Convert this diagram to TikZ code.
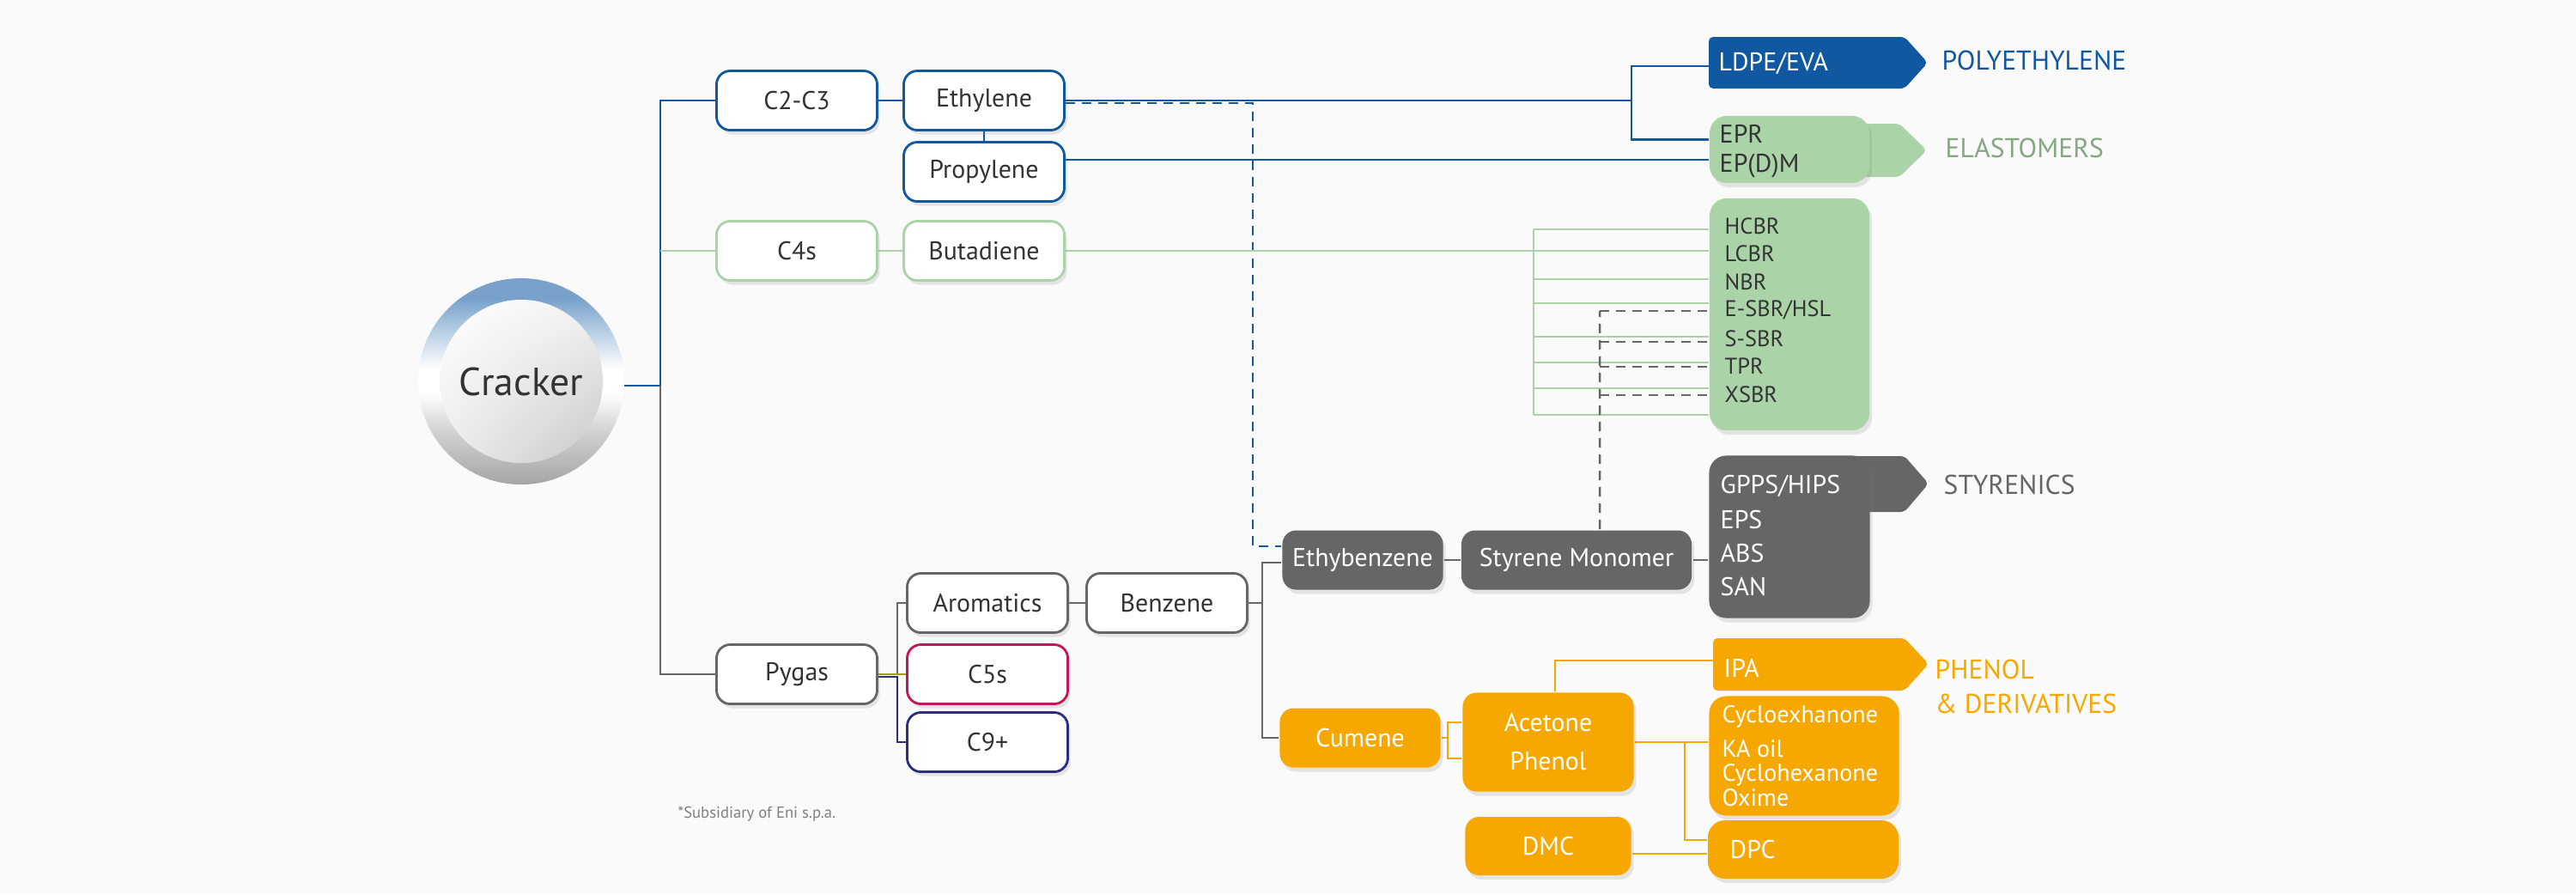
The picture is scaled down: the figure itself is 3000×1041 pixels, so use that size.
\documentclass[tikz,border=0pt]{standalone}
\usepackage{fontspec}
\setmainfont{PT Sans}
\usetikzlibrary{backgrounds}
\usetikzlibrary{shadings,shadows}
\definecolor{bgC}{HTML}{FAFAFA}
\definecolor{blueC}{HTML}{1058A0}
\definecolor{greenC}{HTML}{AAD4A8}
\definecolor{greenT}{HTML}{84A880}
\definecolor{greyC}{HTML}{666666}
\definecolor{orangeC}{HTML}{F7A800}
\definecolor{redC}{HTML}{C2185B}
\definecolor{navyC}{HTML}{2B2F7D}
\definecolor{oliveC}{HTML}{9C9C1E}
\definecolor{inkC}{HTML}{333333}
\definecolor{ringB}{HTML}{78A2CB}
\definecolor{ringL}{HTML}{B9CFE4}
\definecolor{ringG}{HTML}{A5A5A5}
\definecolor{ringM}{HTML}{D2D2D2}
\pgfdeclareverticalshading{ringshade}{100bp}{color(0bp)=(ringG); color(25bp)=(ringG);
  color(38bp)=(ringM); color(47bp)=(white); color(53bp)=(white); color(62bp)=(ringL);
  color(70bp)=(ringB); color(100bp)=(ringB)}
\tikzset{box/.style={rectangle, rounded corners=0.16cm, minimum width=1.87cm,
   minimum height=0.69cm, inner sep=0pt, line width=0.8pt,
   font=\fontsize{8.5}{10}\selectfont,
   drop shadow={shadow xshift=0.03cm, shadow yshift=-0.05cm, opacity=0.18}},
 wbox/.style={box, fill=white, text=inkC},
 gbox/.style={box, fill=greyC, text=white},
 obox/.style={box, fill=orangeC, text=white},
 bigbox/.style={box, rounded corners=0.2cm},
 conn/.style={line width=0.7pt},
 dashline/.style={conn, dash pattern=on 0.11cm off 0.08cm},
 lbl/.style={anchor=west, inner sep=0pt, font=\fontsize{8.5}{10}\selectfont},
 rubtext/.style={lbl, font=\fontsize{7.5}{9}\selectfont, text=inkC},
 tabtitle/.style={anchor=west, inner sep=0pt, font=\fontsize{9}{11.4}\selectfont},
 tab/.style={rounded corners=0.05cm},
 }

\begin{document}
\begin{tikzpicture}[x=0.01cm, y=-0.01cm]
\useasboundingbox (0,0) rectangle (3000,1041);
\begin{scope}[on background layer]
\fill[bgC] (0,0) rectangle (3000,1041);
\end{scope}

\node[circle, minimum size=2.4cm, shade, shading=ringshade] (ring) at (607,444) {};
\node[circle, minimum size=1.9cm, upper left=white, upper right=black!5,
  lower left=black!7, lower right=black!22, text=inkC,
  font=\fontsize{13}{15}\selectfont] (cracker) at (607,444) {Cracker};

\node[wbox, draw=blueC] (c2c3) at (928,117) {C2-C3};
\node[wbox, draw=blueC] (eth) at (1146,117) {Ethylene};
\node[wbox, draw=blueC] (prop) at (1146,200) {Propylene};
\node[wbox, draw=greenC] (c4s) at (928,292) {C4s};
\node[wbox, draw=greenC] (buta) at (1146,292) {Butadiene};
\node[wbox, draw=greyC] (pygas) at (928,785) {Pygas};
\node[wbox, draw=greyC] (arom) at (1150,702) {Aromatics};
\node[wbox, draw=redC] (c5s) at (1150,785) {C5s};
\node[wbox, draw=navyC] (c9) at (1150,864) {C9+};
\node[wbox, draw=greyC] (benz) at (1359,702) {Benzene};
\node[gbox] (ethyb) at (1587,652) {Ethybenzene};
\node[gbox, minimum width=2.68cm] (styr) at (1836,652) {Styrene Monomer};
\node[obox] (cum) at (1584,859) {Cumene};
\node[obox, minimum width=1.99cm, minimum height=1.15cm, align=center,
  font=\fontsize{8.5}{12.8}\selectfont] (acph) at (1803,864) {Acetone\\Phenol};
\node[obox, minimum width=1.93cm, minimum height=0.68cm] (dmc) at (1803,985) {DMC};

\fill[blueC, tab] (1990,43) -- (2218,43) -- (2245,73) -- (2218,103) -- (1990,103) -- cycle;
\fill[greenC, tab] (2150,144) -- (2212,144) -- (2244,175) -- (2212,206) -- (2150,206) -- cycle;
\fill[greyC, tab] (2150,531) -- (2218,531) -- (2246,563) -- (2218,596) -- (2150,596) -- cycle;
\fill[orangeC, tab] (1995,743) -- (2218,743) -- (2246,773) -- (2218,804) -- (1995,804) -- cycle;
\coordinate (ldpetab) at (1990,77);
\coordinate (ipatab) at (1995,769);

\node[bigbox, fill=greenC, minimum width=1.86cm, minimum height=0.78cm] (eprbox) at (2084,174) {};
\node[bigbox, fill=greenC, minimum width=1.86cm, minimum height=2.70cm] (rubber) at (2084,366) {};
\node[bigbox, fill=greyC, minimum width=1.87cm, minimum height=1.89cm] (styrbox) at (2084,625) {};
\node[bigbox, fill=orangeC, minimum width=2.21cm, minimum height=1.39cm] (cyc) at (2101,880) {};
\node[bigbox, fill=orangeC, minimum width=2.22cm, minimum height=0.68cm] (dpc) at (2100,989) {};

\node[lbl, text=white] (ldpe) at (2001,74) {LDPE/EVA};
\node[tabtitle, text=blueC] (poly) at (2261,70) {POLYETHYLENE};
\node[lbl, text=inkC] (epr) at (2002,156) {EPR};
\node[lbl, text=inkC] (epdm) at (2002,193) {EP(D)M};
\node[tabtitle, text=greenT] (elast) at (2265,172) {ELASTOMERS};
\foreach \t [count=\i] in {HCBR,LCBR,NBR,E-SBR/HSL,S-SBR,TPR,XSBR}
  \node[rubtext] (rb\i) at (2008,{263+(\i-1)*32.7}) {\t};
\node[tabtitle, text=greyC] (styrt) at (2263,564) {STYRENICS};
\foreach \t [count=\i] in {GPPS/HIPS,EPS,ABS,SAN}
  \node[lbl, text=white] (sp\i) at (2003,{566+(\i-1)*39}) {\t};
\node[lbl, text=white] (ipa) at (2007,778) {IPA};
\node[tabtitle, text=orangeC, align=left] (phen) at (2253,799) {PHENOL\\\& DERIVATIVES};
\foreach \t/\y [count=\i] in {Cycloexhanone/834,KA oil/872,Cyclohexanone/902,Oxime/929}
  \node[lbl, text=white, font=\fontsize{8}{9}\selectfont] (cy\i) at (2005,\y) {\t};
\node[lbl, text=white] (dpct) at (2014,989) {DPC};
\node[anchor=west, inner sep=0pt, text=black!50, font=\fontsize{5.3}{6}\selectfont]
  (note) at (789,948) {*Subsidiary of Eni s.p.a.};

\begin{scope}[on background layer]
\coordinate (trunk) at (769,449);
\coordinate (pe) at (1900,117);
\coordinate (dj) at (1459,636);
\coordinate (gj) at (1786,292);
\coordinate (sd) at (1863,362);
\coordinate (pj) at (1045,785);
\coordinate (bj) at (1470,702);
\coordinate (cb) at (1686,859);
\coordinate (cj) at (1962,864);
\draw[conn, blueC] (cracker.east |- trunk) -- (trunk) |- (c2c3.west);
\draw[conn, greenC] (trunk |- c4s) -- (c4s.west);
\draw[conn, greyC] (trunk) |- (pygas.west);
\draw[conn, blueC] (c2c3.east) -- (eth.west);
\draw[conn, blueC] (eth.south) -- (prop.north);
\draw[conn, blueC] (eth.east) -- (pe);
\draw[conn, blueC] (ldpetab) -| (pe) |- (eprbox.173);
\draw[conn, blueC] ([yshift=0.14cm]prop.east) -- ([yshift=0.14cm]prop.east -| eprbox.west);
\draw[dashline, blueC] ([yshift=-0.03cm]eth.east) -| (dj) -- (dj -| ethyb.west);
\draw[conn, greenC] (c4s.east) -- (buta.west);
\draw[conn, greenC] (buta.east) -- (gj);
\draw[conn, greenC] (1786,267) -- (1786,483);
\foreach \y in {267,292,325,353,392,422,452,483}
  \draw[conn, greenC] (gj |- 0,\y) -- (rubber.west |- 0,\y);
\draw[dashline, greyC] ([xshift=0.27cm]styr.north) -- (sd);
\foreach \y in {362,398,427,460}
  \draw[dashline, greyC] (sd |- 0,\y) -- (rubber.west |- 0,\y);
\draw[conn, greyC] (arom.west) -| (pj);
\draw[conn, oliveC] (pygas.east) -- (c5s.west);
\draw[conn, navyC] ([yshift=-0.03cm]pygas.east) -| (c9.west -| pj) -- (c9.west);
\draw[conn, greyC] (arom.east) -- (benz.west);
\draw[conn, greyC] (benz.east) -- (bj);
\draw[conn, greyC] ([yshift=-0.03cm]ethyb.west) -| (bj) |- (cum.west);
\draw[conn, greyC] (ethyb.east) -- (styr.west);
\draw[conn, greyC] (styr.east) -- (styr.east -| styrbox.west);
\draw[conn, orangeC] (cum.east) -- (cb);
\draw[conn, orangeC] ([yshift=0.23cm]acph.west) -| (cb) |- ([yshift=-0.19cm]acph.west);
\draw[conn, orangeC] ([xshift=0.08cm]acph.north) |- (ipatab);
\draw[conn, orangeC] (acph.east) -- (acph.east -| cyc.west);
\draw[conn, orangeC] (cj) |- ([yshift=0.11cm]dpc.west);
\draw[conn, orangeC] ([yshift=-0.09cm]dmc.east) -- ([yshift=-0.09cm]dmc.east -| dpc.west);
\end{scope}
\end{tikzpicture}
\end{document}
